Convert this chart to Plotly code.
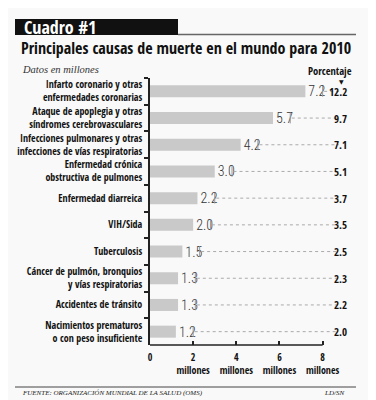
import plotly.graph_objects as go

categories = [
    "Infarto coronario y otras<br>enfermedades coronarias",
    "Ataque de apoplegia y otras<br>síndromes cerebrovasculares",
    "Infecciones pulmonares y otras<br>infecciones de vías respiratorias",
    "Enfermedad crónica<br>obstructiva de pulmones",
    "Enfermedad diarreica",
    "VIH/Sida",
    "Tuberculosis",
    "Cáncer de pulmón, bronquios<br>y vías respiratorias",
    "Accidentes de tránsito",
    "Nacimientos prematuros<br>o con peso insuficiente",
]
values = [7.2, 5.7, 4.2, 3.0, 2.2, 2.0, 1.5, 1.3, 1.3, 1.2]
percentages = [12.2, 9.7, 7.1, 5.1, 3.7, 3.5, 2.5, 2.3, 2.2, 2.0]
tick_vals = [0, 2, 4, 6, 8]
tick_text = ["0", "2<br>millones", "4<br>millones", "6<br>millones", "8<br>millones"]

NARROW = "Open Sans Condensed, DejaVu Sans Condensed, sans-serif"
LIGHT = "Roboto Condensed, Open Sans Condensed, DejaVu Sans Condensed, sans-serif"
SERIF = "Liberation Serif, DejaVu Serif, serif"
BG = "#f9f9f9"

OFF = 8  # page body margin
W, H = 376 - OFF, 400 - OFF
# plot area in window pixels: x 150..355, y 78..345
PX0, PX1, PY0, PY1 = 150, 355, 78, 345
L, T = PX0 - OFF, PY0 - OFF
PW, PH = PX1 - PX0, PY1 - PY0
R, B = W - L - PW, H - T - PH


def px_x(px):
    return (px - PX0) / PW


def px_y(py):
    return (PY1 - py) / PH


fig = go.Figure()
fig.add_trace(go.Bar(
    x=values, y=categories, orientation="h",
    marker=dict(color="#c9c9c9", line=dict(width=0)),
    text=[f"{v:.1f}" for v in values], textposition="outside", constraintext="none",
    textfont=dict(family=LIGHT, size=14, color="#333", weight=300),
    cliponaxis=False, width=0.45, hoverinfo="skip",
))

shapes = []
annotations = []
for i, (v, p) in enumerate(zip(values, percentages)):
    shapes.append(dict(type="line", xref="x", yref="y", x0=v + 0.8, x1=v + 0.8,
                       y0=i - 0.2, y1=i + 0.2, line=dict(color="#999", width=1)))
    shapes.append(dict(type="line", xref="x", yref="y", x0=v + 0.87, x1=8.75,
                       y0=i, y1=i, line=dict(color="#aaa", width=1, dash="dot")))
    annotations.append(dict(x=9.21, y=i, xref="x", yref="y", text=f"{p:.1f}",
                            showarrow=False, xanchor="right", yanchor="middle",
                            font=dict(family=NARROW, size=11, color="#111", weight=800)))

# x axis line (stops at 8)
shapes.append(dict(type="line", xref="x", yref="paper", x0=0, x1=8, y0=0, y1=0,
                   line=dict(color="#222", width=1.5)))
# header
shapes.append(dict(type="rect", xref="paper", yref="paper", x0=px_x(15), x1=px_x(178),
                   y0=px_y(35), y1=px_y(19), fillcolor="#111", line=dict(width=0)))
shapes.append(dict(type="line", xref="paper", yref="paper", x0=px_x(178), x1=px_x(356),
                   y0=px_y(34.5), y1=px_y(34.5), line=dict(color="#666", width=1.5)))
# footer line
shapes.append(dict(type="line", xref="paper", yref="paper", x0=px_x(15), x1=px_x(356),
                   y0=px_y(387), y1=px_y(387), line=dict(color="#444", width=1)))

annotations += [
    dict(x=px_x(22), y=px_y(27), xref="paper", yref="paper", text="Cuadro #1",
         showarrow=False, xanchor="left", yanchor="middle",
         font=dict(family=NARROW, size=18, color="white", weight=800)),
    dict(x=px_x(19), y=px_y(48), xref="paper", yref="paper",
         text="Principales causas de muerte en el mundo para 2010",
         showarrow=False, xanchor="left", yanchor="middle",
         font=dict(family=NARROW, size=16, color="#111", weight=700)),
    dict(x=px_x(20), y=px_y(70), xref="paper", yref="paper", text="<i>Datos en millones</i>",
         showarrow=False, xanchor="left", yanchor="middle",
         font=dict(family=SERIF, size=10.5, color="#333")),
    dict(x=px_x(330), y=px_y(70.5), xref="paper", yref="paper", text="Porcentaje",
         showarrow=False, xanchor="center", yanchor="middle",
         font=dict(family=NARROW, size=10.5, color="#111", weight=800)),
    dict(x=px_x(341), y=px_y(81), xref="paper", yref="paper", text="▼",
         showarrow=False, xanchor="center", yanchor="middle",
         font=dict(family="DejaVu Sans", size=6, color="#111")),
    dict(x=px_x(20), y=px_y(393), xref="paper", yref="paper",
         text="<i>FUENTE: ORGANIZACIÓN MUNDIAL DE LA SALUD (OMS)</i>",
         showarrow=False, xanchor="left", yanchor="middle",
         font=dict(family=SERIF, size=7, color="#222")),
    dict(x=px_x(346), y=px_y(393), xref="paper", yref="paper", text="<i>LD/SN</i>",
         showarrow=False, xanchor="right", yanchor="middle",
         font=dict(family=SERIF, size=7, color="#222")),
]

fig.update_layout(
    width=W, height=H,
    margin=dict(l=L, r=R, t=T, b=B, pad=0, autoexpand=False),
    paper_bgcolor=BG, plot_bgcolor=BG,
    showlegend=False, bargap=0.55,
    shapes=shapes, annotations=annotations,
    xaxis=dict(range=[0, 9.5], tickvals=tick_vals, ticktext=tick_text, tickangle=0,
               ticks="inside", ticklen=4, tickwidth=1.5, tickcolor="#222",
               showline=False, showgrid=False, zeroline=False, automargin=False,
               ticklabelstandoff=5,
               tickfont=dict(family=NARROW, size=10, color="#111", weight=800),
               fixedrange=True),
    yaxis=dict(type="category", autorange="reversed", showline=True, linecolor="#222",
               linewidth=1.5, ticks="outside", tickson="boundaries", ticklen=4,
               tickwidth=1.5, tickcolor="#222", showgrid=False, zeroline=False,
               automargin=False, ticklabelstandoff=4,
               tickfont=dict(family=NARROW, size=10, color="#111", weight=800),
               fixedrange=True),
)

fig.write_html("out.html")
